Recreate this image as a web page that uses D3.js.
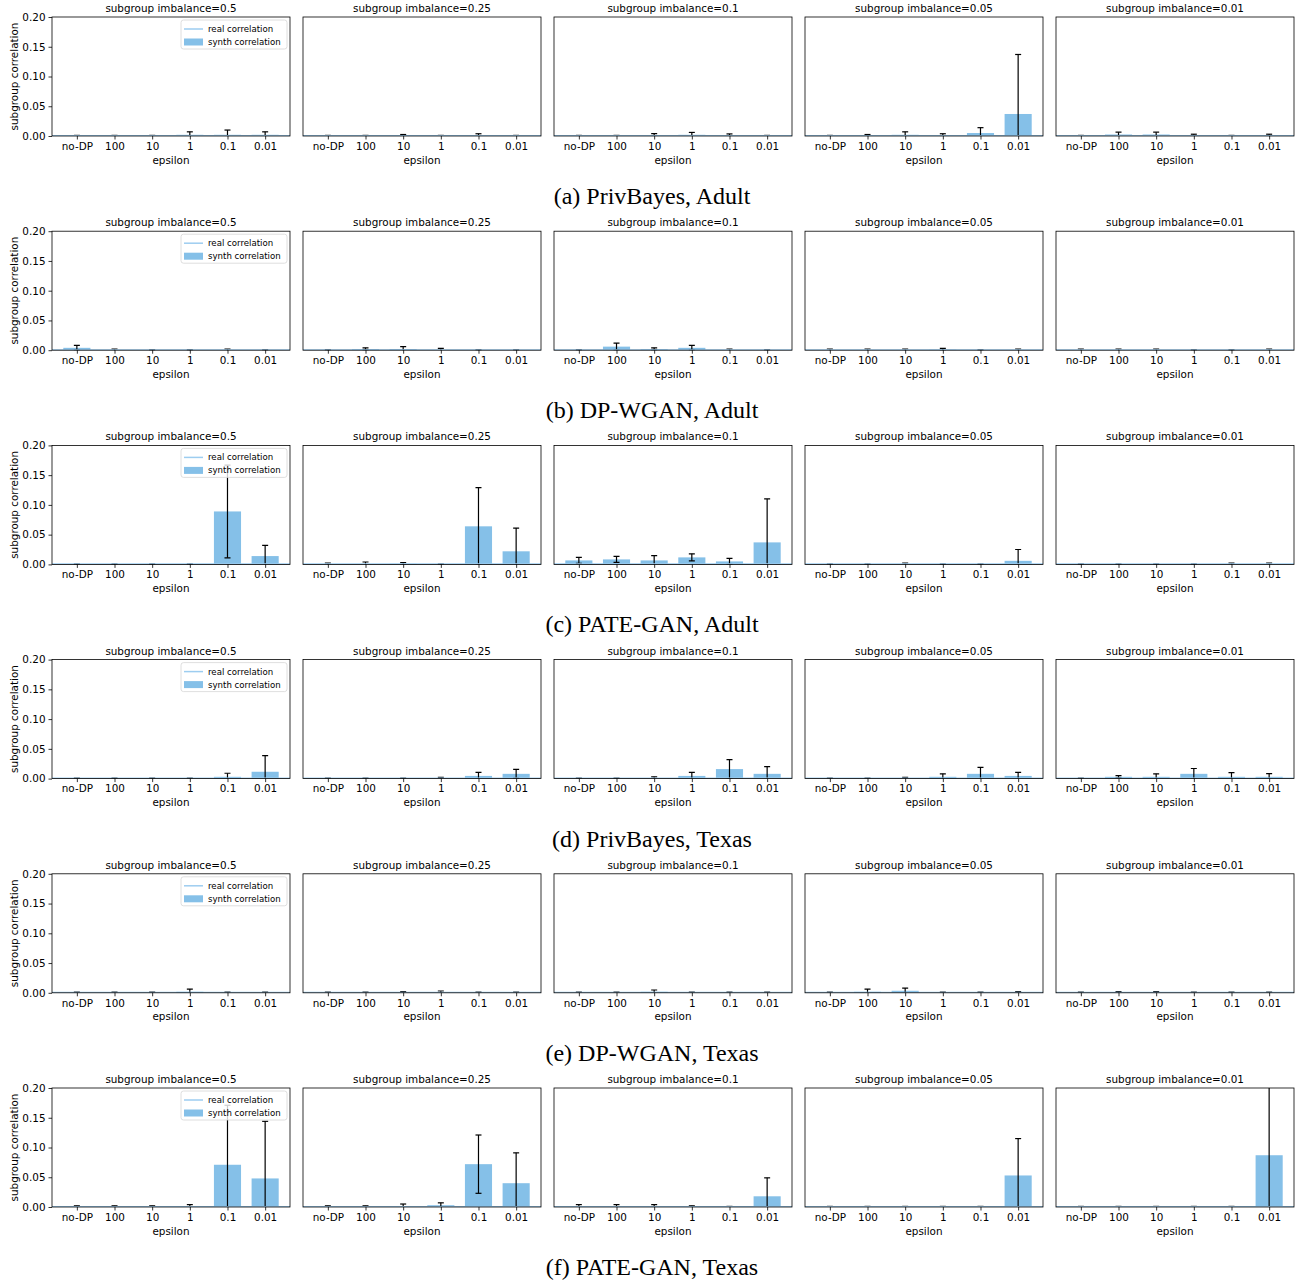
<!DOCTYPE html>
<html>
<head>
<meta charset="utf-8">
<script src="https://cdn.jsdelivr.net/npm/d3@7"></script>
<style>
  html, body { margin: 0; padding: 0; background: #fff; }
  svg { display: block; }
</style>
</head>
<body>
<svg id="fig" width="1304" height="1281"></svg>
<script>
// Categories shared by every panel
const epsilons = ["no-DP", "100", "10", "1", "0.1", "0.01"];
const imbalances = ["0.5", "0.25", "0.1", "0.05", "0.01"];
const yTicks = [0, 0.05, 0.10, 0.15, 0.20];
const captions = [
  "(a) PrivBayes, Adult",
  "(b) DP-WGAN, Adult",
  "(c) PATE-GAN, Adult",
  "(d) PrivBayes, Texas",
  "(e) DP-WGAN, Texas",
  "(f) PATE-GAN, Texas"
];

// Mean synthetic subgroup correlation: one row per imbalance level, one value per epsilon
const privBayesAdultMean = [
  [0, 0, 0, 0.002, 0.002, 0.002],
  [0, 0, 0.0005, 0, 0.0008, 0],
  [0, 0, 0.001, 0.002, 0.0005, 0],
  [0, 0.0005, 0.002, 0.0008, 0.005, 0.037],
  [0, 0.0025, 0.0025, 0, 0, 0]
];
const privBayesAdultErr = [
  [0.001, 0.001, 0.001, 0.005, 0.008, 0.005],
  [0.001, 0.001, 0.002, 0.001, 0.003, 0.001],
  [0.001, 0.001, 0.003, 0.004, 0.003, 0.001],
  [0.001, 0.002, 0.005, 0.003, 0.009, 0.1],
  [0.001, 0.004, 0.004, 0.003, 0.001, 0.003]
];

const dpwganAdultMean = [
  [0.004, 0, 0, 0, 0, 0],
  [0, 0.002, 0.002, 0, 0, 0],
  [0, 0.006, 0.002, 0.004, 0, 0],
  [0, 0, 0, 0.001, 0, 0],
  [0, 0, 0, 0, 0, 0]
];
const dpwganAdultErr = [
  [0.004, 0.002, 0.001, 0.001, 0.002, 0.001],
  [0.001, 0.002, 0.004, 0.003, 0.001, 0.001],
  [0.001, 0.006, 0.002, 0.004, 0.002, 0.001],
  [0.002, 0.002, 0.002, 0.002, 0.001, 0.002],
  [0.002, 0.002, 0.002, 0.001, 0.001, 0.002]
];

const pateganAdultMean = [
  [0, 0, 0, 0, 0.089, 0.014],
  [0, 0, 0.001, 0, 0.064, 0.022],
  [0.0067, 0.0084, 0.0067, 0.0118, 0.005, 0.037],
  [0, 0, 0, 0, 0, 0.006],
  [0, 0, 0, 0, 0, 0]
];
const pateganAdultErr = [
  [0.001, 0.001, 0.001, 0.001, 0.078, 0.018],
  [0.002, 0.004, 0.002, 0.001, 0.065, 0.039],
  [0.005, 0.005, 0.008, 0.006, 0.005, 0.073],
  [0.001, 0.001, 0.002, 0.001, 0.001, 0.019],
  [0.001, 0.001, 0.001, 0.001, 0.002, 0.002]
];

const privBayesTexasMean = [
  [0, 0, 0, 0, 0.003, 0.0115],
  [0, 0, 0, 0, 0.0045, 0.008],
  [0, 0, 0, 0.0045, 0.016, 0.008],
  [0, 0, 0, 0.003, 0.008, 0.0045],
  [0, 0.003, 0.003, 0.008, 0.003, 0.003]
];
const privBayesTexasErr = [
  [0.001, 0.001, 0.001, 0.001, 0.006, 0.027],
  [0.001, 0.001, 0.001, 0.002, 0.006, 0.0075],
  [0.001, 0.001, 0.003, 0.006, 0.016, 0.012],
  [0.001, 0.001, 0.002, 0.005, 0.011, 0.006],
  [0.001, 0.002, 0.005, 0.009, 0.007, 0.0055]
];

const dpwganTexasMean = [
  [0, 0, 0, 0.0017, 0, 0],
  [0, 0, 0, 0, 0, 0],
  [0, 0, 0.0017, 0, 0, 0],
  [0, 0.0017, 0.0034, 0, 0, 0],
  [0, 0, 0, 0, 0, 0]
];
const dpwganTexasErr = [
  [0.001, 0.001, 0.001, 0.0045, 0.001, 0.001],
  [0.001, 0.001, 0.002, 0.003, 0.001, 0.001],
  [0.001, 0.001, 0.003, 0.001, 0.001, 0.001],
  [0.001, 0.0045, 0.0045, 0.001, 0.001, 0.002],
  [0.001, 0.002, 0.002, 0.001, 0.001, 0.001]
];

const pateganTexasMean = [
  [0, 0, 0, 0.001, 0.071, 0.048],
  [0, 0, 0.001, 0.003, 0.072, 0.040],
  [0.001, 0.001, 0.001, 0, 0, 0.018],
  [0, 0, 0, 0, 0, 0.053],
  [0, 0, 0, 0, 0, 0.087]
];
const pateganTexasErr = [
  [0.002, 0.002, 0.002, 0.003, 0.1, 0.096],
  [0.002, 0.002, 0.004, 0.004, 0.049, 0.051],
  [0.003, 0.003, 0.003, 0.002, 0.001, 0.031],
  [0.001, 0.001, 0.001, 0.001, 0.001, 0.062],
  [0.001, 0.001, 0.001, 0.001, 0.001, 0.14]
];

// Real-data subgroup correlation (near zero everywhere)
const realCorrelation = [0.0005, 0.0005, 0.0005, 0.0005, 0.0005];

const rows = [
  { mean: privBayesAdultMean, err: privBayesAdultErr },
  { mean: dpwganAdultMean, err: dpwganAdultErr },
  { mean: pateganAdultMean, err: pateganAdultErr },
  { mean: privBayesTexasMean, err: privBayesTexasErr },
  { mean: dpwganTexasMean, err: dpwganTexasErr },
  { mean: pateganTexasMean, err: pateganTexasErr }
];

// Layout
const panelW = 238, panelH = 119;
const panelLeft0 = 52, panelStep = 251;
const rowTop0 = 17, rowStep = 214.2;
const barColor = "#85c0e8";
const realColor = "#9dcdf0";
const sans = "'DejaVu Sans', sans-serif";
const serif = "'Liberation Serif', 'Times New Roman', serif";
const fs = 10.4;

const svg = d3.select("#fig");

const x = d3.scaleLinear().domain([-0.66, 5.66]).range([0, panelW]);
const y = d3.scaleLinear().domain([0, 0.2]).range([panelH, 0]);
const barW = x(0.72) - x(0);

rows.forEach((row, r) => {
  const top = rowTop0 + r * rowStep;

  imbalances.forEach((imb, c) => {
    const left = panelLeft0 + c * panelStep;
    const g = svg.append("g").attr("transform", `translate(${left},${top})`);
    const clipId = `clip-${r}-${c}`;
    g.append("clipPath").attr("id", clipId)
      .append("rect").attr("width", panelW).attr("height", panelH);

    const plot = g.append("g").attr("clip-path", `url(#${clipId})`);
    const means = row.mean[c];
    const errs = row.err[c];
    const data = epsilons.map((e, i) => ({ i, m: means[i], e: errs[i] }));

    // synthetic correlation bars
    plot.selectAll("rect.bar").data(data).join("rect")
      .attr("class", "bar")
      .attr("x", d => x(d.i) - barW / 2)
      .attr("width", barW)
      .attr("y", d => y(d.m))
      .attr("height", d => y(0) - y(d.m))
      .attr("fill", barColor);

    // error bars
    const eb = plot.selectAll("g.err").data(data).join("g").attr("class", "err");
    eb.append("line")
      .attr("x1", d => x(d.i)).attr("x2", d => x(d.i))
      .attr("y1", d => y(d.m - d.e)).attr("y2", d => y(d.m + d.e))
      .attr("stroke", "#000").attr("stroke-width", 1.2);
    eb.append("line")
      .attr("x1", d => x(d.i) - 3).attr("x2", d => x(d.i) + 3)
      .attr("y1", d => y(d.m + d.e)).attr("y2", d => y(d.m + d.e))
      .attr("stroke", "#000").attr("stroke-width", 1.2);
    eb.append("line")
      .attr("x1", d => x(d.i) - 3).attr("x2", d => x(d.i) + 3)
      .attr("y1", d => y(d.m - d.e)).attr("y2", d => y(d.m - d.e))
      .attr("stroke", "#000").attr("stroke-width", 1.2);

    // real correlation reference line
    plot.append("line")
      .attr("x1", 0).attr("x2", panelW)
      .attr("y1", y(realCorrelation[c])).attr("y2", y(realCorrelation[c]))
      .attr("stroke", realColor).attr("stroke-width", 1.5);

    // x axis
    const xAxis = g.append("g").attr("transform", `translate(0,${panelH})`)
      .call(d3.axisBottom(x).tickValues(d3.range(6)).tickFormat(i => epsilons[i])
        .tickSize(3.5).tickPadding(3));
    xAxis.select(".domain").remove();
    xAxis.selectAll("text").attr("font-family", sans).attr("font-size", fs).attr("fill", "#000");
    xAxis.selectAll("line").attr("stroke", "#000").attr("stroke-width", 0.8);

    g.append("text")
      .attr("x", panelW / 2).attr("y", panelH + 27.5)
      .attr("text-anchor", "middle")
      .attr("font-family", sans).attr("font-size", fs)
      .text("epsilon");

    // y axis on the first column only
    if (c === 0) {
      const yAxis = g.append("g")
        .call(d3.axisLeft(y).tickValues(yTicks).tickFormat(d3.format(".2f"))
          .tickSize(3.5).tickPadding(3));
      yAxis.select(".domain").remove();
      yAxis.selectAll("text").attr("font-family", sans).attr("font-size", fs).attr("fill", "#000");
      yAxis.selectAll("line").attr("stroke", "#000").attr("stroke-width", 0.8);

      g.append("text")
        .attr("transform", `translate(-34,${panelH / 2}) rotate(-90)`)
        .attr("text-anchor", "middle")
        .attr("font-family", sans).attr("font-size", fs)
        .text("subgroup correlation");
    }

    // frame
    g.append("rect")
      .attr("width", panelW).attr("height", panelH)
      .attr("fill", "none").attr("stroke", "#000").attr("stroke-width", 0.8);

    // panel title
    g.append("text")
      .attr("x", panelW / 2).attr("y", -5)
      .attr("text-anchor", "middle")
      .attr("font-family", sans).attr("font-size", fs)
      .text(`subgroup imbalance=${imb}`);

    // legend in the first panel of each row
    if (c === 0) {
      const lg = g.append("g").attr("transform", `translate(${panelW - 109},3)`);
      lg.append("rect")
        .attr("width", 106).attr("height", 29).attr("rx", 2.5)
        .attr("fill", "#fff").attr("fill-opacity", 0.8)
        .attr("stroke", "#d6d6d6").attr("stroke-width", 0.8);
      lg.append("line")
        .attr("x1", 3).attr("x2", 22).attr("y1", 9).attr("y2", 9)
        .attr("stroke", realColor).attr("stroke-width", 1.5);
      lg.append("rect")
        .attr("x", 3).attr("y", 18.5).attr("width", 19).attr("height", 7)
        .attr("fill", barColor);
      lg.append("text").attr("x", 27).attr("y", 12)
        .attr("font-family", sans).attr("font-size", 8.6).text("real correlation");
      lg.append("text").attr("x", 27).attr("y", 25)
        .attr("font-family", sans).attr("font-size", 8.6).text("synth correlation");
    }
  });

  // row caption
  svg.append("text")
    .attr("x", 652).attr("y", top + 187)
    .attr("text-anchor", "middle")
    .attr("font-family", serif).attr("font-size", 24)
    .text(captions[r]);
});
</script>
</body>
</html>
